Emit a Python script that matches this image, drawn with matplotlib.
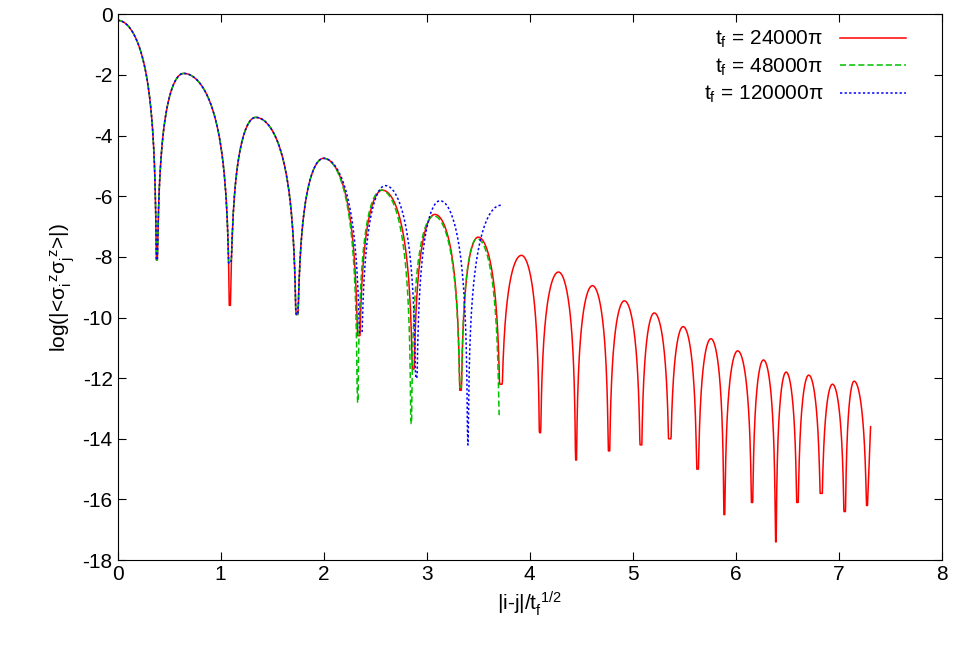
import numpy as np
import matplotlib
matplotlib.use("Agg")
import matplotlib.pyplot as plt

plt.rcParams['font.family'] = ['Liberation Sans', 'DejaVu Sans']
plt.rcParams['axes.unicode_minus'] = False

start_val = -0.2
# red: t_f = 24000 pi
red_zeros = [0.38, 1.09, 1.74, 2.34, 2.87, 3.33, 3.72, 4.10, 4.45, 4.77, 5.08, 5.36, 5.63, 5.89, 6.16, 6.39, 6.60, 6.83, 7.06, 7.28]
red_dips = [-8.1, -9.6, -9.9, -10.6, -11.7, -12.4, -12.2, -13.8, -14.7, -14.4, -14.2, -14.0, -15.0, -16.5, -16.1, -17.4, -16.1, -15.8, -16.4, -16.2]
red_peak_x = [0.64, 1.34, 2.0, 2.57, 3.08, 3.50, 3.92, 4.28, 4.61, 4.92, 5.21, 5.49, 5.76, 6.02, 6.27, 6.49, 6.71, 6.94, 7.15]
red_peak_y = [-1.95, -3.4, -4.75, -5.8, -6.6, -7.35, -7.95, -8.5, -8.95, -9.45, -9.85, -10.3, -10.7, -11.1, -11.4, -11.8, -11.9, -12.2, -12.1]
red_end = (7.31, -13.6)

green_zeros = [0.38, 1.09, 1.74, 2.33, 2.85, 3.33, 3.71]
green_dips = [-8.1, -8.2, -9.9, -12.8, -13.5, -12.3, -13.2]
green_peak_x = [0.64, 1.34, 2.0, 2.56, 3.07, 3.49]
green_peak_y = [-1.95, -3.4, -4.75, -5.8, -6.65, -7.4]

blue_zeros = [0.38, 1.09, 1.74, 2.36, 2.90, 3.40]
blue_dips = [-8.1, -8.2, -9.9, -10.5, -12.0, -14.2]
blue_peak_x = [0.64, 1.34, 2.0, 2.60, 3.13, 3.72]
blue_peak_y = [-1.95, -3.4, -4.75, -5.65, -6.15, -6.3]


def arc(a, b, p, h, da, db, n=120, stop_at_peak=False):
    x = np.linspace(a, p if stop_at_peak else b, n)
    u = np.where(x <= p, 0.5 * (x - a) / (p - a), 0.5 + 0.5 * (x - p) / (b - p))
    s = np.clip(np.sin(np.pi * u), 1e-12, None)
    y = h + 2.0 * np.log(s)
    lim = np.where(x <= p, da, db)
    return x, np.maximum(y, lim)


def build(zeros, dips, px, py, end=None):
    xs, ys = [], []
    z0 = zeros[0]
    x = np.linspace(0, z0, 120)
    u = 0.5 + 0.5 * x / z0
    y = np.maximum(start_val + 2.0 * np.log(np.clip(np.sin(np.pi * u), 1e-12, None)), dips[0])
    xs.append(x); ys.append(y)
    for i in range(len(px)):
        a = zeros[i]
        if i + 1 < len(zeros):
            x, y = arc(a, zeros[i + 1], px[i], py[i], dips[i], dips[i + 1])
        else:
            b = px[i] + (px[i] - a)
            x, y = arc(a, b, px[i], py[i], dips[i], dips[i], stop_at_peak=True)
        xs.append(x); ys.append(y)
    if end is not None:
        xs.append(np.array([end[0]])); ys.append(np.array([end[1]]))
    return np.concatenate(xs), np.concatenate(ys)


fig, ax = plt.subplots(figsize=(9.56, 6.49), dpi=100)
fig.subplots_adjust(left=0.123, right=0.985, top=0.978, bottom=0.137)

rx, ry = build(red_zeros, red_dips, red_peak_x, red_peak_y, end=red_end)
gx, gy = build(green_zeros, green_dips, green_peak_x, green_peak_y)
bx, by = build(blue_zeros, blue_dips, blue_peak_x, blue_peak_y)

ax.plot(rx, ry, color='#ff0000', lw=1.1, label=r'$\mathregular{t_f}$ = 24000π')
ax.plot(gx, gy, color='#00c000', lw=1.1, ls=(0, (4, 2)), label=r'$\mathregular{t_f}$ = 48000π')
ax.plot(bx, by, color='#0000ff', lw=1.1, ls=(0, (1.5, 1.5)), label=r'$\mathregular{t_f}$ = 120000π')

ax.set_xlim(0, 8)
ax.set_ylim(-18, 0)
ax.set_xticks(range(0, 9))
ax.set_yticks(range(-18, 1, 2))
ax.tick_params(direction='in', top=True, right=True, labelsize=15, length=6)
ax.set_xlabel(r'|i-j|/$\mathregular{t_f^{\ 1/2}}$', fontsize=15)
ax.set_ylabel(r'log(|<$\mathregular{\sigma_i^{\ z}\sigma_j^{\ z}}$>|)', fontsize=15)
ax.legend(loc='upper right', frameon=False, markerfirst=False, fontsize=15,
          handlelength=3.2, labelspacing=0.3, borderaxespad=0.3,
          bbox_to_anchor=(0.975, 1.0))
fig.savefig('out.png', dpi=100)
